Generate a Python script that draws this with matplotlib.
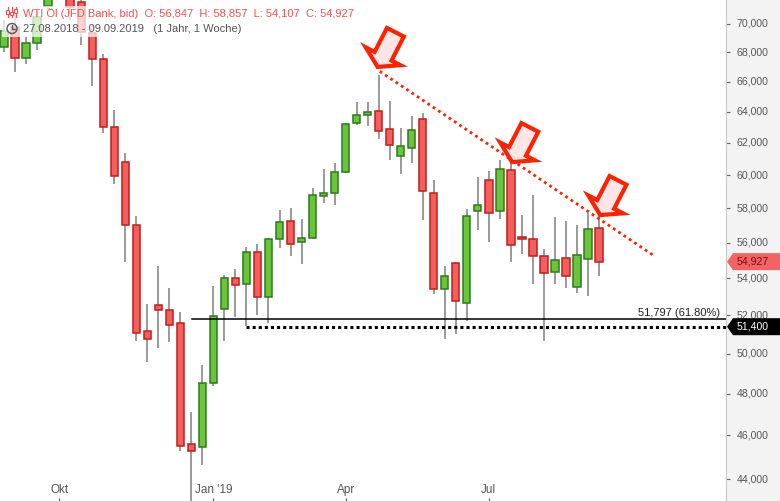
import numpy as np
import pandas as pd
import matplotlib
matplotlib.use("Agg")
import matplotlib.pyplot as plt
from matplotlib.patches import Polygon, Rectangle, Circle
from matplotlib.lines import Line2D
from matplotlib.transforms import IdentityTransform

plt.rcParams['font.family'] = ['Liberation Sans', 'DejaVu Sans']
NARROW = ['Liberation Sans Narrow', 'Liberation Sans', 'DejaVu Sans']

# weekly candles, WTI Oel (JFD Bank, bid)
weeks = pd.date_range("2018-08-27", periods=55, freq="W-MON")

opens = [68360, 69800, 67590, 68640, 71300, 73300, 74300, 71610, 69360, 67520,
         63000, 60790, 57030, 51150, 52540, 52280, 51590, 45600, 45460, 48530,
         52330, 54000, 53680, 55450, 52970, 56200, 57240, 56060, 56240, 58750,
         58900, 60180, 63250, 63770, 64030, 62860, 61160, 61660, 63510, 58900,
         53410, 54850, 52650, 57820, 59690, 57820, 60290, 56320, 56200, 55240,
         54330, 55120, 53520, 55070, 56847]
highs = [70300, 71000, 69060, 70900, 73300, 76900, 75200, 72000, 69900, 67890,
         64120, 61350, 57550, 52610, 54690, 53480, 52170, 47130, 49440, 53590,
         54180, 54520, 55730, 55930, 56260, 57900, 58020, 57360, 59220, 60370,
         60740, 63250, 64640, 64640, 66450, 64710, 62960, 63730, 63920, 59700,
         54690, 54900, 57980, 59880, 60250, 60910, 60910, 57590, 58780, 55620,
         57470, 57240, 57010, 57700, 58857]
lows = [68050, 66670, 67180, 68170, 71000, 73000, 70290, 68520, 65730, 62650,
        59440, 54930, 50630, 49560, 50320, 50580, 45260, 42400, 44620, 48360,
        50680, 51930, 51440, 52010, 51620, 55710, 55220, 54820, 56200, 58340,
        58220, 60100, 63130, 63100, 62270, 60950, 60090, 60760, 57340, 53170,
        50760, 51020, 51700, 56750, 56060, 57380, 54880, 55330, 53680, 50650,
        53680, 53460, 53190, 53010, 54107]
closes = [69520, 67590, 68640, 70520, 73200, 74300, 71250, 69450, 67520, 63000,
          59940, 57030, 51070, 50760, 52280, 51480, 45510, 45280, 48530, 51960,
          54000, 53620, 55450, 52970, 56200, 57180, 55920, 56260, 58780, 58900,
          60180, 63190, 63770, 63970, 62740, 61850, 61790, 62800, 59040, 53410,
          54110, 52760, 57530, 58180, 57700, 60350, 55840, 56200, 55240, 54280,
          55010, 54110, 55300, 56780, 54927]

month_dates = ["2018-10-01", "2019-01-07", "2019-04-01", "2019-07-01"]
month_labels = ["Okt", "Jan '19", "Apr", "Jul"]
price_ticks = [44000, 46000, 48000, 50000, 52000, 54000, 56000, 58000,
               60000, 62000, 64000, 66000, 68000, 70000]

# drawings
trend_x = [34.1, 59.0]
trend_y = [66700, 55250]
fib_level, fib_start = 51797, 17.1
support_level, support_start = 51400, 22.0
arrow_tips = [(33.9, 67000), (46.1, 60800), (54.1, 57600)]

W, H = 780, 501
fig = plt.figure(figsize=(W / 100, H / 100), dpi=100)
ax = fig.add_axes([0, 0, 726 / W, 1])
ax2 = fig.add_axes([726 / W, 0, 54 / W, 1])

o, h, l, c = map(np.array, (opens, highs, lows, closes))
x = np.arange(len(o))
up = c >= o

ax.set_yscale('log')
ax.set_ylim(43025, 71735)
x_right = (726 - 4) / 11.02
ax.set_xlim(-4 / 11.02, x_right)

ax.vlines(x, l, h, color='#7f7f7f', lw=1.1, zorder=2)
ax.bar(x[up], (c - o)[up], bottom=o[up], width=0.66, color='#6cc33c',
       edgecolor='#2b7a1d', lw=1.1, zorder=3)
ax.bar(x[~up], (o - c)[~up], bottom=c[~up], width=0.66, color='#f25f5c',
       edgecolor='#c21d1d', lw=1.1, zorder=3)

ax.plot(trend_x, trend_y, color='#ff2200', lw=2.0, linestyle=(0, (1, 1.3)), zorder=4)
ax.plot([fib_start, x_right], [fib_level, fib_level], color='black', lw=1.1, zorder=4)
ax.plot([support_start, x_right], [support_level, support_level], color='black',
        lw=2.2, linestyle=(0, (1, 1)), zorder=4)
ax.annotate("51,797 (61.80%)", xy=(x_right, fib_level), xytext=(-6, 3),
            textcoords='offset pixels', ha='right', va='baseline',
            fontsize=8, color='#222222')

for s in ax.spines.values():
    s.set_visible(False)
ax.yaxis.set_major_locator(plt.NullLocator())
ax.yaxis.set_minor_locator(plt.NullLocator())
tick_pos = [weeks.get_loc(pd.Timestamp(d)) for d in month_dates]
ax.set_xticks(tick_pos)
ax.tick_params(axis='x', direction='in', length=2.5, color='#555555', labelbottom=False)
for p, lab in zip(tick_pos, month_labels):
    ax.text(p, 0.022, lab, transform=ax.get_xaxis_transform(), ha='center',
            va='center', fontsize=8.5, color='#555555', family=NARROW)

# price scale panel
ax2.set_facecolor('#f3f3f3')
ax2.set_yscale('log')
ax2.set_ylim(ax.get_ylim())
ax2.set_xlim(0, 1)
for k, s in ax2.spines.items():
    s.set_visible(k == 'left')
ax2.spines['left'].set_color('#c8c8c8')
ax2.xaxis.set_visible(False)
ax2.set_yticks(price_ticks)
ax2.yaxis.set_minor_locator(plt.NullLocator())
ax2.tick_params(axis='y', direction='in', length=3, width=0.8, color='#666666',
                labelleft=False)
for v in price_ticks:
    ax2.text(0.2, v, f"{v:,}", transform=ax2.get_yaxis_transform(), ha='left',
             va='center', fontsize=7.6, color='#555555', family=NARROW)


def tag(value, face, tcolor, label):
    yd = ax2.transData.transform((0, value))[1]
    pts = [(727, yd), (733, yd + 8.5), (780, yd + 8.5), (780, yd - 8.5), (733, yd - 8.5)]
    fig.add_artist(Polygon(pts, closed=True, facecolor=face, edgecolor='none',
                           transform=IdentityTransform(), zorder=5))
    fig.text(736.7, yd, label, transform=IdentityTransform(), ha='left', va='center',
             fontsize=7.6, color=tcolor, family=NARROW, zorder=6)


tag(closes[-1], '#f26464', '#7a0c0c', f"{closes[-1]:,}")
tag(support_level, 'black', 'white', f"{support_level:,}")

# arrows pointing at the trend line touches
u = np.array([0.457, 0.889])
pv = np.array([0.889, -0.457])
shape = [(0, 0), (12, 19.5), (12, 9.5), (39, 9.5), (39, -9.5), (12, -9.5), (12, -19.5)]
for xi, vi in arrow_tips:
    t = ax.transData.transform((xi, vi))
    pts = [t + a * u + b * pv for a, b in shape]
    fig.add_artist(Polygon(pts, closed=True, facecolor='#ffe6e6', edgecolor='#ff2200',
                           lw=3, joinstyle='miter', transform=IdentityTransform(), zorder=4))

# legend block
fig.add_artist(Rectangle((2, H - 37), 350, 31, facecolor='white', alpha=0.72,
                         edgecolor='none', transform=IdentityTransform(), zorder=2))
red = '#ef5350'
for cx, top, bot, b0, b1 in [(7.5, 7, 17, 10, 14), (11.5, 7, 17, 12, 15), (15.5, 7, 17, 9, 13)]:
    fig.add_artist(Line2D([cx, cx], [H - top, H - bot], color=red, lw=0.8,
                          transform=IdentityTransform(), zorder=3))
    fig.add_artist(Rectangle((cx - 1.5, H - b1), 3, b1 - b0, facecolor='white',
                             edgecolor=red, lw=0.8, transform=IdentityTransform(), zorder=3))
fig.add_artist(Circle((12, H - 28.5), 5, facecolor='none', edgecolor='#555555', lw=1,
                      transform=IdentityTransform(), zorder=3))
fig.add_artist(Line2D([12, 12, 15], [H - 25, H - 28.5, H - 28.5], color='#555555', lw=1,
                      transform=IdentityTransform(), zorder=3))

fig.text(23, H - 16.7, "WTI Öl (JFD Bank, bid)  O: 56,847  H: 58,857  L: 54,107  C: 54,927",
         transform=IdentityTransform(), fontsize=8, color=red, va='baseline', zorder=4)
fig.text(23, H - 31.8, "27.08.2018 - 09.09.2019   (1 Jahr, 1 Woche)",
         transform=IdentityTransform(), fontsize=8, color='#555555', va='baseline', zorder=4)

fig.savefig("out.png", dpi=100)
